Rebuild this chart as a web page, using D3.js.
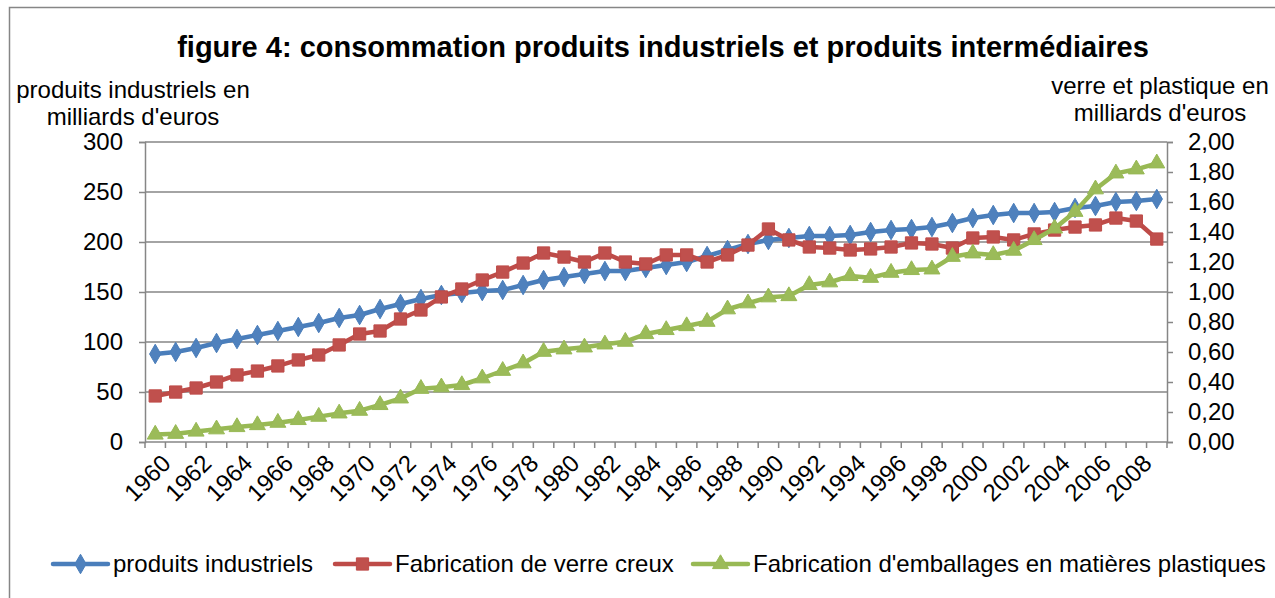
<!DOCTYPE html>
<html>
<head>
<meta charset="utf-8">
<script src="https://cdn.jsdelivr.net/npm/d3@7.9.0/dist/d3.min.js"></script>
<style>
  html, body { margin: 0; padding: 0; background: #fff; }
  svg { display: block; font-family: "Liberation Sans", Arial, sans-serif; }
</style>
</head>
<body>
<svg id="chart" width="1275" height="598"></svg>
<script>
// years 1960..2009
const years = d3.range(1960, 2010);
const yearLabels = years.filter(y => y % 2 === 0);

// left axis: produits industriels (milliards d'euros)
const produitsIndustriels = [88, 90, 94, 99, 103, 107, 111, 115, 119, 124,
  127, 133, 138, 143, 147, 149, 151, 152, 157, 162,
  165, 168, 171, 171, 174, 177, 180, 186, 192, 198,
  202, 204, 206, 206, 207, 210, 212, 213, 215, 219,
  224, 227, 229, 229, 230, 234, 236, 240, 241, 243];

// right axis: verre creux (milliards d'euros) -- read on the left scale then /150
const verreCreux = [46, 50, 54, 60, 67, 71, 76, 82, 87, 97,
  108, 111, 123, 132, 145, 153, 162, 170, 179, 189,
  185, 180, 189, 180, 178, 187, 187, 180, 187, 197,
  213, 202, 195, 194, 192, 193, 195, 199, 198, 194,
  204, 205, 202, 208, 212, 215, 217, 224, 221, 203].map(v => +(v / 150).toFixed(3));

// right axis: emballages plastiques (milliards d'euros)
const emballagesPlastiques = [0.05, 0.055, 0.07, 0.085, 0.10, 0.113, 0.129, 0.147, 0.169, 0.191,
  0.209, 0.247, 0.291, 0.355, 0.365, 0.38, 0.425, 0.475, 0.525, 0.602,
  0.618, 0.631, 0.651, 0.669, 0.72, 0.747, 0.773, 0.802, 0.885, 0.925,
  0.965, 0.973, 1.047, 1.065, 1.107, 1.095, 1.129, 1.147, 1.151, 1.235,
  1.258, 1.247, 1.276, 1.347, 1.424, 1.535, 1.685, 1.791, 1.818, 1.858];

const leftTicks = [0, 50, 100, 150, 200, 250, 300];
const rightTicks = d3.range(0, 2.001, 0.2);

const series = [
  { name: 'produits industriels', values: produitsIndustriels, axis: 'left', line: '#4a7ebb', fill: '#4f81bd', marker: d3.symbolDiamond, size: 110 },
  { name: 'Fabrication de verre creux', values: verreCreux, axis: 'right', line: '#be4b48', fill: '#c0504d', marker: d3.symbolSquare, size: 150 },
  { name: "Fabrication d'emballages en matières plastiques", values: emballagesPlastiques, axis: 'right', line: '#98b954', fill: '#9bbb59', marker: d3.symbolTriangle, size: 110 }
];

const svg = d3.select('#chart');
const plotLeft = 145, plotRight = 1167, plotTop = 142, plotBottom = 442;
const grey = '#868686';
const fs = 24;

// outer frame
svg.append('rect').attr('x', 9.5).attr('y', 7.5).attr('width', 1280).attr('height', 620)
  .attr('fill', '#fff').attr('stroke', grey).attr('stroke-width', 1.5);

const x = d3.scaleBand().domain(years).range([plotLeft, plotRight]).padding(0);
const yL = d3.scaleLinear().domain([0, 300]).range([plotBottom, plotTop]);
const yR = d3.scaleLinear().domain([0, 2]).range([plotBottom, plotTop]);

// gridlines
svg.append('g').selectAll('line').data(leftTicks.filter(d => d > 0)).join('line')
  .attr('x1', plotLeft).attr('x2', plotRight)
  .attr('y1', d => yL(d)).attr('y2', d => yL(d))
  .attr('stroke', grey).attr('stroke-width', 1.5);

// left axis
const gL = svg.append('g').attr('transform', `translate(${plotLeft},0)`)
  .call(d3.axisLeft(yL).tickValues(leftTicks).tickSize(6).tickPadding(16));
// right axis
const fmtR = d => d3.format('.2f')(d).replace('.', ',');
const gR = svg.append('g').attr('transform', `translate(${plotRight},0)`)
  .call(d3.axisRight(yR).tickValues(rightTicks).tickSize(6).tickPadding(15).tickFormat(fmtR));
// bottom axis: ticks on category boundaries
const boundaries = years.map(y => x(y)).concat([plotRight]);
const gB = svg.append('g');
gB.append('line').attr('x1', plotLeft).attr('x2', plotRight).attr('y1', plotBottom).attr('y2', plotBottom)
  .attr('stroke', grey).attr('stroke-width', 1.5);
gB.selectAll('line.tk').data(boundaries).join('line').attr('class', 'tk')
  .attr('x1', d => d).attr('x2', d => d).attr('y1', plotBottom).attr('y2', plotBottom + 6)
  .attr('stroke', grey).attr('stroke-width', 1.5);
gB.selectAll('text').data(yearLabels).join('text')
  .attr('transform', d => `translate(${x(d) + x.bandwidth() / 2 + 5},${plotBottom + 11}) rotate(-45)`)
  .attr('text-anchor', 'end').attr('dy', '0.7em')
  .attr('font-size', fs).attr('fill', '#000')
  .text(d => d);

[gL, gR].forEach(g => {
  g.select('.domain').attr('stroke', grey).attr('stroke-width', 1.5);
  g.selectAll('.tick line').attr('stroke', grey).attr('stroke-width', 1.5);
  g.selectAll('.tick text').attr('font-size', fs).attr('fill', '#000')
    .attr('font-family', '"Liberation Sans", Arial, sans-serif');
});

// series
series.forEach(s => {
  const yS = s.axis === 'left' ? yL : yR;
  const cx = (d, i) => x(years[i]) + x.bandwidth() / 2;
  const line = d3.line().x(cx).y(d => yS(d));
  svg.append('path').datum(s.values).attr('d', line)
    .attr('fill', 'none').attr('stroke', s.line).attr('stroke-width', 4.5)
    .attr('stroke-linejoin', 'round').attr('stroke-linecap', 'round');
  svg.append('g').selectAll('path').data(s.values).join('path')
    .attr('d', d3.symbol(s.marker, s.size))
    .attr('transform', (d, i) => `translate(${cx(d, i)},${yS(d)})`)
    .attr('fill', s.fill).attr('stroke', s.line).attr('stroke-width', 1);
});

// title
svg.append('text').attr('x', 663).attr('y', 57).attr('text-anchor', 'middle')
  .attr('font-size', 29).attr('font-weight', 'bold').attr('fill', '#000')
  .text('figure 4: consommation produits industriels et produits intermédiaires');

// axis titles
const axisTitle = (cx, lines, y0) => {
  const t = svg.append('text').attr('text-anchor', 'middle').attr('font-size', fs).attr('fill', '#000');
  lines.forEach((l, i) => t.append('tspan').attr('x', cx).attr('y', y0 + i * 26.5).text(l));
};
axisTitle(133, ['produits industriels en', "milliards d'euros"], 98);
axisTitle(1160, ['verre et plastique en', "milliards d'euros"], 94);

// legend
const legendX = [53, 335, 693];
const lg = svg.append('g');
series.forEach((s, i) => {
  const g = lg.append('g').attr('transform', `translate(${legendX[i]},564)`);
  g.append('line').attr('x1', 0).attr('x2', 55).attr('y1', 0).attr('y2', 0)
    .attr('stroke', s.line).attr('stroke-width', 4.5).attr('stroke-linecap', 'round');
  g.append('path').attr('d', d3.symbol(s.marker, s.size)).attr('transform', 'translate(27.5,0)')
    .attr('fill', s.fill).attr('stroke', s.line).attr('stroke-width', 1);
  g.append('text').attr('x', 60).attr('y', 0).attr('dy', '0.35em')
    .attr('font-size', fs).attr('fill', '#000').text(s.name);
});
</script>
</body>
</html>
